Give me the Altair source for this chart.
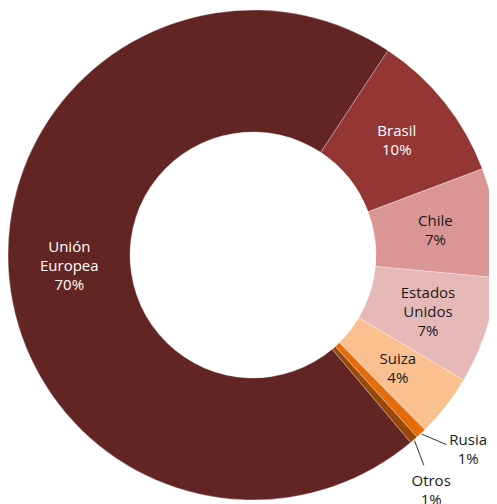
import math
import altair as alt
import pandas as pd

# ---- data ----
categories = ["Brasil", "Chile", "Estados Unidos", "Suiza", "Rusia", "Otros", "Unión Europea"]
shares = [10.0, 7.2, 7.05, 4.1, 0.7, 0.55, 70.4]
pct_labels = ["10%", "7%", "7%", "4%", "1%", "1%", "70%"]
name_lines = ["Brasil", "Chile", "Estados\nUnidos", "Suiza", "Rusia", "Otros", "Unión\nEuropea"]
colors = ["#943634", "#D99694", "#E6B9B8", "#FAC090", "#E46C0A", "#984807", "#632523"]
text_colors = ["#ffffff", "#1a1a1a", "#1a1a1a", "#1a1a1a", "#1a1a1a", "#1a1a1a", "#ffffff"]
outside = [False, False, False, False, True, True, False]
label_shift = [0, 0, 0, 0, -1.28, 1.08, 0]  # label angle nudge for outside labels (share units)
label_radius = [184, 184, 184, 184, 290, 295, 184]

start_deg = 33.4  # angle (clockwise from 12 o'clock) where Brasil begins

# ---- layout (style) ----
W, H = 481, 496
CX, CY = 245, 247
R_OUT, R_IN = 245, 123
LINE_H = 19
FONT = "Open Sans"
FS = 15

rows = []
cum = 0.0
for i, c in enumerate(categories):
    s = shares[i]
    mid = cum + s / 2
    lab = mid + label_shift[i]
    a_mid = math.radians(start_deg + mid * 3.6)
    a_lab = math.radians(start_deg + lab * 3.6)
    a_end = math.radians(start_deg + (mid + lab) / 2 * 3.6)
    label = name_lines[i] + "\n" + pct_labels[i]
    rows.append({
        "cat": c,
        "start": cum,
        "end": cum + s,
        "mid": mid,
        "label": label,
        "nlines": label.count("\n") + 1,
        "tcolor": text_colors[i],
        "outside": outside[i],
        "tx": CX + label_radius[i] * math.sin(a_lab),
        "ty": CY - label_radius[i] * math.cos(a_lab),
        "lx1": CX + (R_OUT + 1) * math.sin(a_mid),
        "ly1": CY - (R_OUT + 1) * math.cos(a_mid),
        "lx2": CX + (R_OUT + 26) * math.sin(a_end),
        "ly2": CY - (R_OUT + 26) * math.cos(a_end),
    })
    cum += s
df = pd.DataFrame(rows)

start_rad = math.radians(start_deg)
theta_scale = alt.Scale(domain=[0, 100], range=[start_rad, start_rad + 2 * math.pi])
xs = alt.Scale(domain=[0, W], range=[0, W])
ys = alt.Scale(domain=[0, H], range=[0, H])

base = alt.Chart(df)

arcs = base.mark_arc(outerRadius=R_OUT, innerRadius=R_IN, stroke="#ffffff", strokeWidth=0.3).encode(
    theta=alt.Theta("start:Q", scale=theta_scale, stack=None),
    theta2=alt.Theta2("end:Q"),
    color=alt.Color("cat:N", scale=alt.Scale(domain=categories, range=colors), legend=None),
    x=alt.value(CX),
    y=alt.value(CY),
)


def inside_layer(n):
    return base.transform_filter(f"!datum.outside && datum.nlines == {n}").mark_text(
        radius=184, lineBreak="\n", font=FONT, fontSize=FS, lineHeight=LINE_H,
        align="center", baseline="middle", dy=-(n - 1) * LINE_H / 2,
    ).encode(
        theta=alt.Theta("mid:Q", scale=theta_scale, stack=None),
        text="label:N",
        color=alt.Color("tcolor:N", scale=None),
        x=alt.value(CX),
        y=alt.value(CY),
    )


leaders = base.transform_filter("datum.outside").mark_rule(
    color="#1a1a1a", strokeWidth=0.9,
).encode(
    x=alt.X("lx1:Q", scale=xs, axis=None),
    y=alt.Y("ly1:Q", scale=ys, axis=None),
    x2="lx2:Q",
    y2="ly2:Q",
)

outside_text = base.transform_filter("datum.outside").mark_text(
    lineBreak="\n", font=FONT, fontSize=FS, lineHeight=LINE_H,
    align="center", baseline="middle", dy=-LINE_H / 2,
).encode(
    x=alt.X("tx:Q", scale=xs, axis=None),
    y=alt.Y("ty:Q", scale=ys, axis=None),
    text="label:N",
    color=alt.Color("tcolor:N", scale=None),
)

chart = alt.layer(arcs, leaders, inside_layer(2), inside_layer(3), outside_text).properties(
    width=W, height=H, padding=0, autosize=alt.AutoSizeParams(type="none"),
).configure_view(stroke=None)

chart.save("out.html", embed_options={"renderer": "svg", "actions": False})
